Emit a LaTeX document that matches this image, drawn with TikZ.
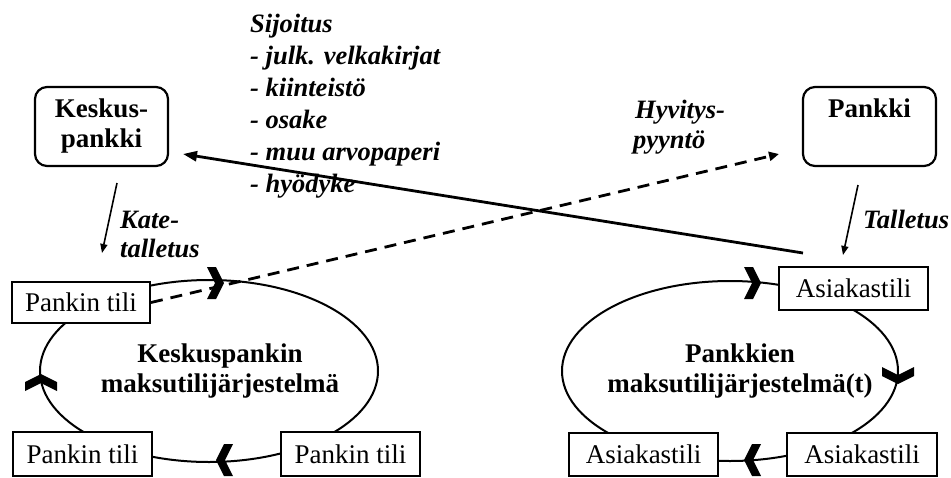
\documentclass[tikz,border=0pt]{standalone}
\usepackage{fontspec}
\setmainfont{Liberation Serif}
\usetikzlibrary{arrows.meta,shapes.geometric}
\newcommand\regsize{\fontsize{27}{30}\selectfont}
\newcommand\bigbold{\fontsize{27}{30}\selectfont\bfseries}
\newcommand\lblfont{\fontsize{26.5}{30}\selectfont\bfseries\itshape}

\begin{document}
\begin{tikzpicture}[x=1pt,y=-1pt,
  bankbox/.style={draw,line width=2.2pt,rounded corners=12pt,minimum width=133pt,
    minimum height=79pt,inner sep=0pt,align=center,font=\bigbold},
  acct/.style={draw,fill=white,line width=2pt,inner sep=0pt,minimum height=43pt,font=\regsize},
  loop/.style={draw,ellipse,line width=2pt,inner sep=0pt},
  lbl/.style={anchor=base west,inner sep=0pt,font=\lblfont},
  systext/.style={align=center,inner sep=0pt,font=\bigbold},
  flow/.style={line width=2.8pt},
  small/.style={line width=1.6pt,-{Triangle[length=9pt,width=7pt]}},
  chev/.pic={\fill (1,0) -- (-7,16) -- (-16,16) -- (-8,0) -- (-16,-16) -- (-7,-16) -- cycle;}
]
\useasboundingbox (0,0) rectangle (951,477);

% banks
\node[bankbox] (kp) at (101.5,126.5) {Keskus-\\pankki};
\node[bankbox] (pk) at (869.5,126.5) {Pankki\\\phantom{pankki}};

% payment account systems
\node[loop,minimum width=338pt,minimum height=182pt] (cbloop) at (209,371) {};
\node[loop,minimum width=336pt,minimum height=180pt] (bkloop) at (730,371) {};
\node[systext] (cbtext) at (220,371) {Keskuspankin\\maksutilijärjestelmä};
\node[systext] (bktext) at (740,371) {Pankkien\\maksutilijärjestelmä(t)};

% direction marks on the loops
\pic at (223,283) {chev};
\pic[rotate=90] at (41,375) {chev};
\pic[rotate=180] at (217,460) {chev};
\pic at (760,283) {chev};
\pic[rotate=-90] at (898,383) {chev};
\pic[rotate=180] at (745,460) {chev};

% accounts
\node[acct,minimum width=138pt,minimum height=41pt] (pt1) at (81,302.5) {Pankin tili};
\node[acct,minimum width=139pt,minimum height=44pt] (pt2) at (82.5,454) {Pankin tili};
\node[acct,minimum width=139pt,minimum height=44pt] (pt3) at (350.5,454) {Pankin tili};
\node[acct,minimum width=149pt] (as1) at (853.5,288.5) {Asiakastili};
\node[acct,minimum width=149pt] (as2) at (643.5,454.5) {Asiakastili};
\node[acct,minimum width=150pt] (as3) at (862,454.5) {Asiakastili};

% investment list
\node[lbl] (s0) at (250,32) {Sijoitus};
\node[lbl] (s1) at (250,64) {- julk. velkakirjat};
\node[lbl] (s2) at (250,96) {- kiinteistö};
\node[lbl] (s3) at (250,128) {- osake};
\node[lbl] (s4) at (250,160) {- muu arvopaperi};
\node[lbl] (s5) at (250,192) {- hyödyke};

% flow labels
\node[lbl] (h1) at (635,118) {Hyvitys-};
\node[lbl] (h2) at (633,148) {pyyntö};
\node[lbl] (k1) at (120,228) {Kate-};
\node[lbl] (k2) at (120,257) {talletus};
\node[lbl] (t1) at (863,228) {Talletus};

% flows
\coordinate (sfrom) at (803,253);
\coordinate (sto) at (183,154);
\draw[flow,-{Triangle[length=14pt,width=10pt]}] (sfrom) -- (sto);
\coordinate (dto) at (779,154);
\draw[flow,dash pattern=on 12pt off 8pt,-{Triangle[length=10pt,width=9pt]}] (pt1.east) -- (dto);
\coordinate (kfrom) at (117,183);
\coordinate (kto) at (102,253);
\draw[small] (kfrom) -- (kto);
\coordinate (tfrom) at (858,185);
\coordinate (tto) at (843,255);
\draw[small] (tfrom) -- (tto);
\end{tikzpicture}
\end{document}
